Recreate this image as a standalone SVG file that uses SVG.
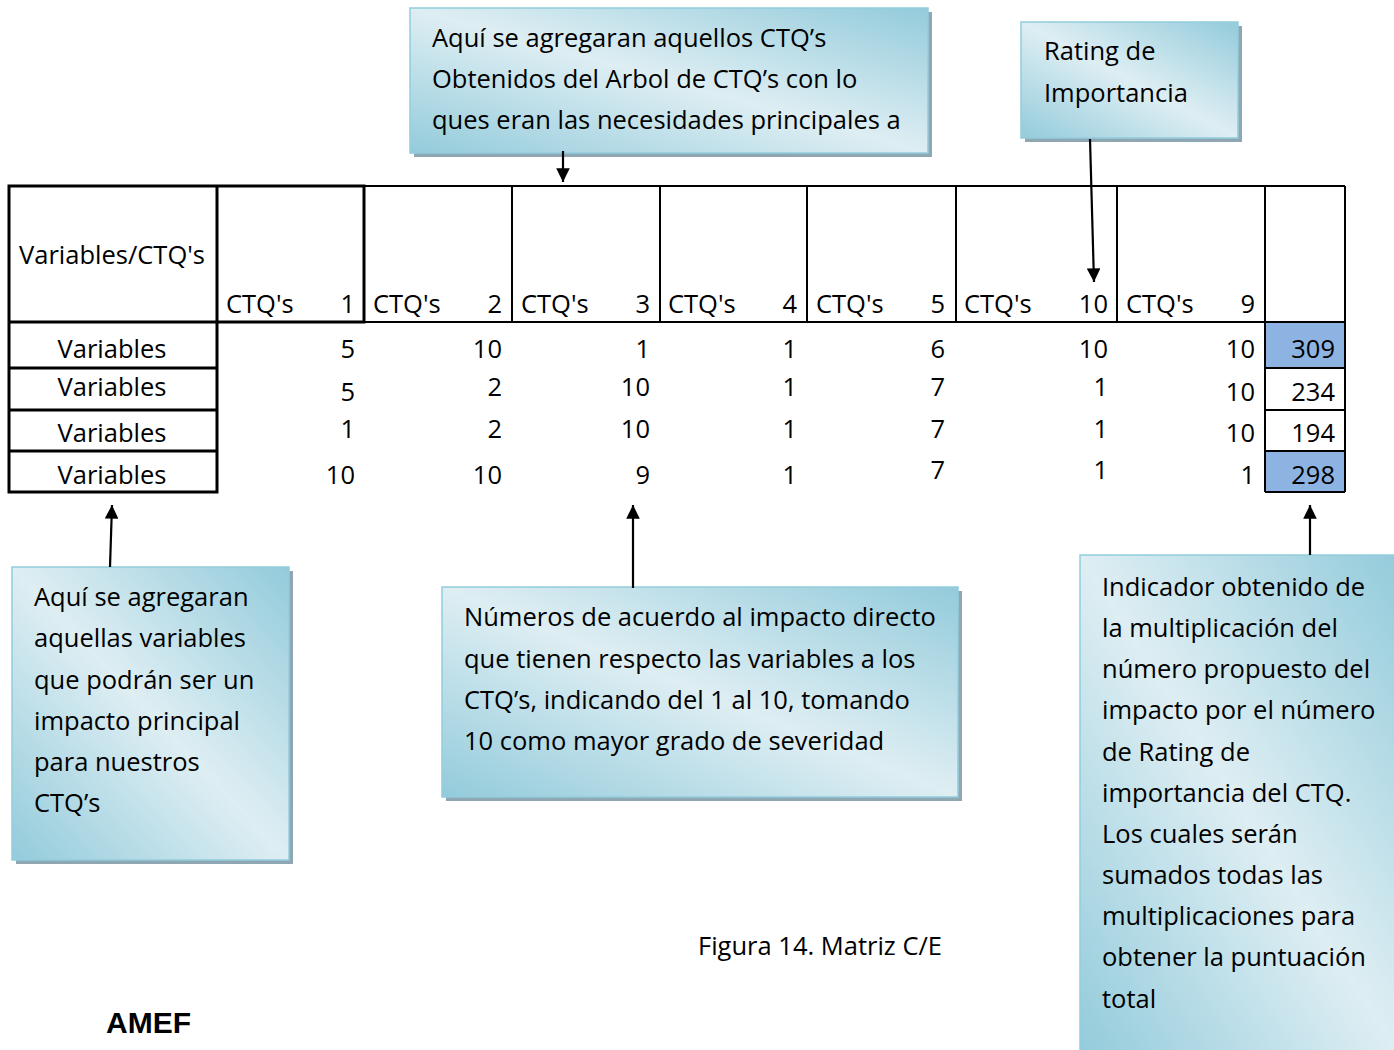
<svg xmlns="http://www.w3.org/2000/svg" width="1394" height="1050" viewBox="0 0 1394 1050">
<defs>
<linearGradient id="g" x1="1" y1="0" x2="0" y2="1">
<stop offset="0" stop-color="#93cbdb"/>
<stop offset="0.5" stop-color="#deeef3"/>
<stop offset="1" stop-color="#93cbdb"/>
</linearGradient>
<marker id="ah" viewBox="0 0 10 10" refX="10" refY="5" markerWidth="7" markerHeight="6.2" orient="auto" markerUnits="strokeWidth">
<path d="M0,0 L10,5 L0,10 z" fill="#000"/>
</marker>
<style>
text{font-family:"Open Sans","Noto Sans",sans-serif;font-size:25.5px;fill:#000}
.r{text-anchor:end}
.c{text-anchor:middle}
.box{fill:url(#g);stroke:#93cddd;stroke-width:1.5}
.sh{fill:#8fa7b3}
.ln{stroke:#000;stroke-width:2;fill:none}
.tk{stroke:#000;stroke-width:3;fill:none}
.arr{stroke:#000;stroke-width:2.2;fill:none;marker-end:url(#ah)}
</style>
</defs>

<g id="table">
<rect x="1265" y="322" width="80" height="46" fill="#8db3e2"/>
<rect x="1265" y="451" width="80" height="41" fill="#8db3e2"/>
<path class="ln" d="M217,186 H1345 M217,322 H1345 M512,186 V322 M660,186 V322 M807,186 V322 M956,186 V322 M1117,186 V322 M1265,186 V492 M1345,186 V492 M1265,368 H1345 M1265,410 H1345 M1265,451 H1345 M1265,492 H1345"/>
<path class="tk" d="M9,186 H217 V492 H9 Z M9,322 H217 M9,368 H217 M9,410 H217 M9,451 H217 M217,186 H364 V322 H217 M364,186 V322"/>
<text x="112" y="264" class="c">Variables/CTQ's</text>
<text x="226" y="313">CTQ's</text><text x="355" y="313" class="r">1</text>
<text x="373" y="313">CTQ's</text><text x="502" y="313" class="r">2</text>
<text x="521" y="313">CTQ's</text><text x="650" y="313" class="r">3</text>
<text x="668" y="313">CTQ's</text><text x="797" y="313" class="r">4</text>
<text x="816" y="313">CTQ's</text><text x="945" y="313" class="r">5</text>
<text x="964" y="313">CTQ's</text><text x="1108" y="313" class="r">10</text>
<text x="1126" y="313">CTQ's</text><text x="1255" y="313" class="r">9</text>

<text x="112" y="358" class="c">Variables</text>
<text x="112" y="396" class="c">Variables</text>
<text x="112" y="442" class="c">Variables</text>
<text x="112" y="484" class="c">Variables</text>

<text x="355" y="358" class="r">5</text><text x="502" y="358" class="r">10</text><text x="650" y="358" class="r">1</text><text x="797" y="358" class="r">1</text><text x="945" y="358" class="r">6</text><text x="1108" y="358" class="r">10</text><text x="1255" y="358" class="r">10</text><text x="1335" y="358" class="r">309</text>
<text x="355" y="401" class="r">5</text><text x="502" y="396" class="r">2</text><text x="650" y="396" class="r">10</text><text x="797" y="396" class="r">1</text><text x="945" y="396" class="r">7</text><text x="1108" y="396" class="r">1</text><text x="1255" y="401" class="r">10</text><text x="1335" y="401" class="r">234</text>
<text x="355" y="438" class="r">1</text><text x="502" y="438" class="r">2</text><text x="650" y="438" class="r">10</text><text x="797" y="438" class="r">1</text><text x="945" y="438" class="r">7</text><text x="1108" y="438" class="r">1</text><text x="1255" y="442" class="r">10</text><text x="1335" y="442" class="r">194</text>
<text x="355" y="484" class="r">10</text><text x="502" y="484" class="r">10</text><text x="650" y="484" class="r">9</text><text x="797" y="484" class="r">1</text><text x="945" y="479" class="r">7</text><text x="1108" y="479" class="r">1</text><text x="1255" y="484" class="r">1</text><text x="1335" y="484" class="r">298</text>
</g>

<g id="note-top">
<rect class="sh" x="414" y="12" width="518" height="145"/>
<rect class="box" x="410" y="8" width="518" height="145"/>
<text x="432" y="47">Aquí se agregaran aquellos CTQ’s</text>
<text x="432" y="88">Obtenidos del Arbol de CTQ’s con lo</text>
<text x="432" y="129">ques eran las necesidades principales a</text>
</g>

<g id="note-rating">
<rect class="sh" x="1025" y="26" width="217" height="116"/>
<rect class="box" x="1021" y="22" width="217" height="116"/>
<text x="1044" y="60">Rating de</text>
<text x="1044" y="102">Importancia</text>
</g>

<g id="note-variables">
<rect class="sh" x="16" y="571" width="277" height="293"/>
<rect class="box" x="12" y="567" width="277" height="293"/>
<text x="34" y="606">Aquí se agregaran</text>
<text x="34" y="647">aquellas variables</text>
<text x="34" y="689">que podrán ser un</text>
<text x="34" y="730">impacto principal</text>
<text x="34" y="771">para nuestros</text>
<text x="34" y="812">CTQ’s</text>
</g>

<g id="note-numbers">
<rect class="sh" x="446" y="591" width="516" height="210"/>
<rect class="box" x="442" y="587" width="516" height="210"/>
<text x="464" y="626">Números de acuerdo al impacto directo</text>
<text x="464" y="668">que tienen respecto las variables a los</text>
<text x="464" y="709">CTQ’s, indicando del 1 al 10, tomando</text>
<text x="464" y="750">10 como mayor grado de severidad</text>
</g>

<g id="note-indicator">
<rect class="sh" x="1084" y="559" width="320" height="500"/>
<rect class="box" x="1080" y="555" width="320" height="500"/>
<text x="1102" y="596">Indicador obtenido de</text>
<text x="1102" y="637">la multiplicación del</text>
<text x="1102" y="678">número propuesto del</text>
<text x="1102" y="719">impacto por el número</text>
<text x="1102" y="761">de Rating de</text>
<text x="1102" y="802">importancia del CTQ.</text>
<text x="1102" y="843">Los cuales serán</text>
<text x="1102" y="884">sumados todas las</text>
<text x="1102" y="925">multiplicaciones para</text>
<text x="1102" y="966">obtener la puntuación</text>
<text x="1102" y="1008">total</text>
</g>

<g id="connectors">
<line class="arr" x1="563" y1="151" x2="563" y2="182"/>
<line class="arr" x1="1090" y1="139" x2="1094" y2="282"/>
<line class="arr" x1="110" y1="567" x2="112" y2="505"/>
<line class="arr" x1="633" y1="588" x2="633" y2="505"/>
<line class="arr" x1="1310" y1="555" x2="1310" y2="505"/>
</g>

<g id="captions">
<text x="698" y="955">Figura 14. Matriz C/E</text>
<text x="106" y="1033" style="font-family:'Liberation Sans',Arial,sans-serif;font-weight:bold;font-size:30px">AMEF</text>
</g>
</svg>
